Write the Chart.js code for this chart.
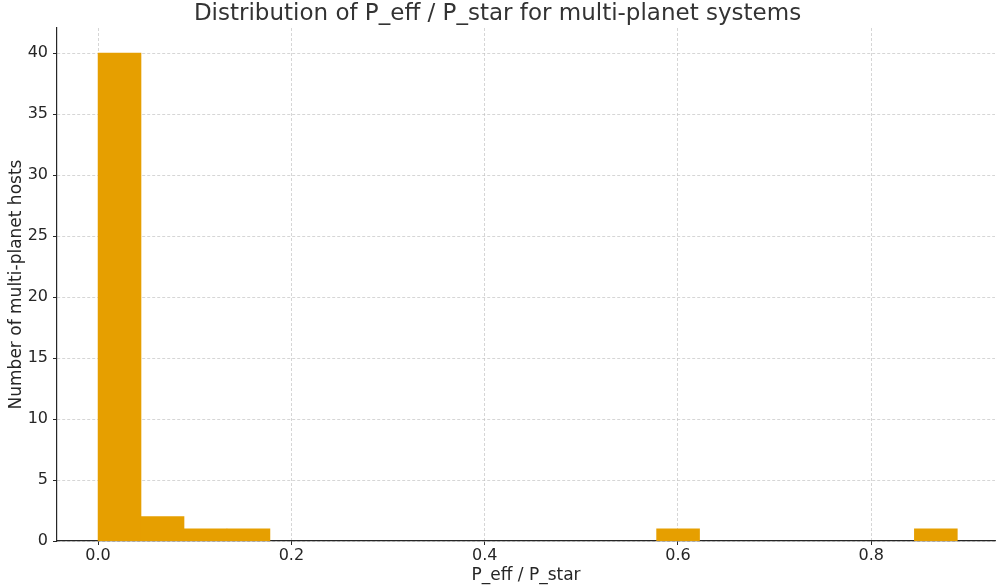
<!DOCTYPE html>
<html>
<head>
<meta charset="utf-8">
<script src="https://cdn.jsdelivr.net/npm/chart.js@4/dist/chart.umd.min.js"></script>
<style>
  html, body { margin: 0; padding: 0; background: #fff; }
  #wrap { width: 996px; height: 586px; }
</style>
</head>
<body>
<div id="wrap"><canvas id="chart" width="996" height="586"></canvas></div>
<script>
// histogram bins of P_eff / P_star (20 bins, 0 .. 0.889)
const binCenters = [
  0.0222, 0.0667, 0.1111, 0.1556, 0.2000, 0.2445, 0.2889, 0.3334, 0.3778, 0.4223,
  0.4668, 0.5112, 0.5557, 0.6001, 0.6446, 0.6890, 0.7335, 0.7779, 0.8224, 0.8668,
];
const hostCounts = [40, 2, 1, 1, 0, 0, 0, 0, 0, 0, 0, 0, 0, 1, 0, 0, 0, 0, 0, 1];
const xTicks = [0.0, 0.2, 0.4, 0.6, 0.8];
const yTicks = [0, 5, 10, 15, 20, 25, 30, 35, 40];

const TEXT = '#262626';
const GRID = 'rgba(190, 190, 190, 0.8)';
const BAR = '#E69F00';
const FONT = 'DejaVu Sans';

Chart.defaults.font.family = FONT;
Chart.defaults.color = TEXT;

new Chart(document.getElementById('chart'), {
  type: 'bar',
  data: {
    datasets: [{
      label: 'hosts',
      data: binCenters.map((x, i) => ({ x, y: hostCounts[i] })),
      // empty bins would otherwise leave a hairline on the axis
      backgroundColor: (ctx) => (ctx.raw && ctx.raw.y > 0 ? BAR : 'rgba(0,0,0,0)'),
      borderWidth: 0,
      barPercentage: 1,
      categoryPercentage: 1,
    }],
  },
  options: {
    responsive: false,
    animation: false,
    layout: { padding: { left: 0, right: 1, top: 0, bottom: 0 } },
    plugins: {
      legend: { display: false },
      tooltip: { enabled: false },
      title: {
        display: true,
        text: 'Distribution of P_eff / P_star for multi-planet systems',
        font: { size: 23, weight: 'normal', lineHeight: 1 },
        color: '#333',
        padding: { top: 3, bottom: 2 },
      },
    },
    scales: {
      x: {
        type: 'linear',
        offset: false,
        min: -0.0425,
        max: 0.928,
        afterBuildTicks: (s) => { s.ticks = xTicks.map((v) => ({ value: v })); },
        afterFit: (s) => { s.height = 45; },
        ticks: {
          includeBounds: false,
          font: { size: 16 },
          padding: 1,
          callback: (v) => Number(v).toFixed(1),
        },
        grid: { offset: false, color: GRID, lineWidth: 0.8, tickLength: 4, tickColor: TEXT, tickWidth: 1 },
        border: { display: true, color: TEXT, width: 1.2, dash: [3, 2] },
        title: {
          display: true,
          text: 'P_eff / P_star',
          font: { size: 17 },
          padding: { top: 0, bottom: 0 },
        },
      },
      y: {
        min: 0,
        max: 42.05,
        afterBuildTicks: (s) => { s.ticks = yTicks.map((v) => ({ value: v })); },
        afterFit: (s) => { s.width = 57; },
        ticks: { includeBounds: false, font: { size: 16 }, padding: 5 },
        grid: { color: GRID, lineWidth: 0.8, tickLength: 4, tickColor: TEXT, tickWidth: 1 },
        border: { display: true, color: TEXT, width: 1.2, dash: [3, 2] },
        title: {
          display: true,
          text: 'Number of multi-planet hosts',
          font: { size: 17 },
          padding: { top: 6, bottom: 0 },
        },
      },
    },
  },
});
</script>
</body>
</html>
